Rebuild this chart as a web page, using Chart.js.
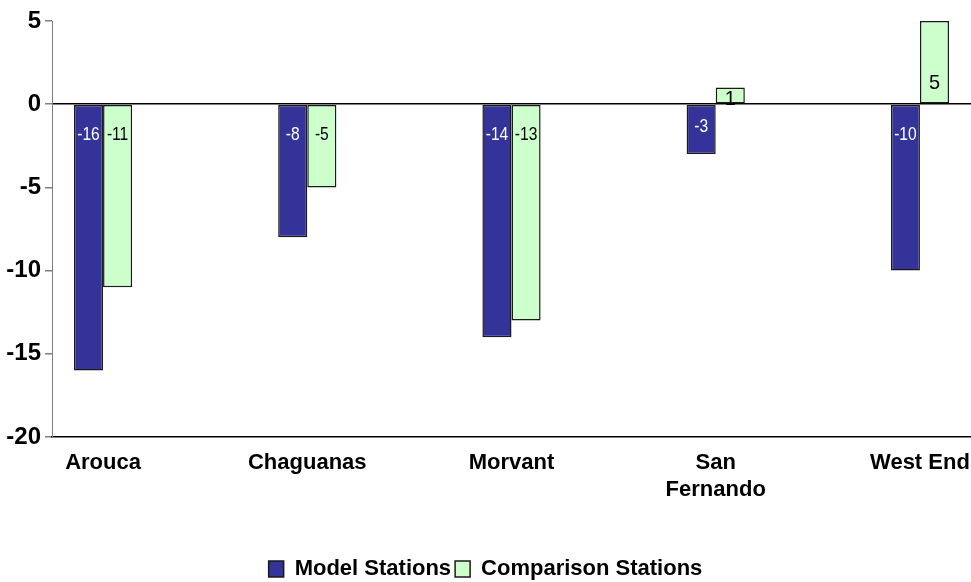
<!DOCTYPE html>
<html>
<head>
<meta charset="utf-8">
<script src="https://cdn.jsdelivr.net/npm/chart.js@4/dist/chart.umd.min.js"></script>
<style>
  html, body { margin: 0; padding: 0; background: #fff; }
  #wrap { width: 971px; height: 582px; }
</style>
</head>
<body>
<div id="wrap"><canvas id="grafico"></canvas></div>
<script>
const estacoes = ['Arouca', 'Chaguanas', 'Morvant', ['San', 'Fernando'], 'West End']
const modelo = [-16, -8, -14, -3, -10]
const comparacao = [-11, -5, -13, 1, 5]
const yTicks = [5, 0, -5, -10, -15, -20]

const grafico = document.getElementById('grafico')

// rotulos dentro das barras (fonte estreita simulada com scale)
const rotulos = {
  id: 'rotulos',
  afterDatasetsDraw(chart) {
    const ctx = chart.ctx
    chart.data.datasets.forEach((ds, i) => {
      chart.getDatasetMeta(i).data.forEach((bar, j) => {
        const v = ds.data[j].y
        const h = Math.abs(bar.base - bar.y)
        let y, sx
        ctx.save()
        if (v < 0) {
          y = bar.base + Math.min(30, h * 0.45)
          ctx.font = '19px "Liberation Sans", Arial'
          sx = 0.82
        } else {
          y = bar.y + h * 0.75
          ctx.font = '21px "Liberation Sans", Arial'
          sx = 0.95
        }
        ctx.textAlign = 'center'
        ctx.textBaseline = 'middle'
        ctx.fillStyle = i === 0 ? '#ffffff' : '#000000'
        ctx.translate(bar.x, y)
        ctx.scale(sx, 1)
        ctx.fillText(String(v), 0, 0)
        ctx.restore()
      })
    })
  }
}

new Chart(grafico, {
  type: 'bar',
  data: {
    datasets: [{
      label: 'Model Stations',
      data: modelo.map((v, i) => ({ x: i, y: v })),
      backgroundColor: '#333399',
      borderColor: '#1a1a1a',
      borderWidth: 1.5,
      borderSkipped: false,
      barPercentage: 1,
      categoryPercentage: 0.285
    },
    {
      label: 'Comparison Stations',
      data: comparacao.map((v, i) => ({ x: i, y: v })),
      backgroundColor: '#CCFFCC',
      borderColor: '#1a1a1a',
      borderWidth: 1.5,
      borderSkipped: false,
      barPercentage: 1,
      categoryPercentage: 0.285
    }]
  },
  options: {
    responsive: true,
    maintainAspectRatio: false,
    animation: false,
    layout: { padding: { top: 21, right: 0, left: 0, bottom: -8 } },
    plugins: {
      tooltip: { enabled: false },
      legend: {
        position: 'bottom',
        labels: {
          color: '#000',
          font: { family: '"Liberation Sans", Arial', size: 22, weight: 'bold' },
          boxWidth: 15,
          boxHeight: 16,
          padding: 4
        }
      }
    },
    scales: {
      x: {
        type: 'linear',
        min: -0.25,
        max: 4.25,
        offset: false,
        grid: { display: false },
        border: { display: true, color: '#000', width: 1.5 },
        afterFit: (s) => { s.height = 117; s.paddingRight = 0; s.paddingLeft = 0 },
        ticks: {
          stepSize: 1,
          includeBounds: false,
          autoSkip: false,
          maxRotation: 0,
          padding: 5,
          color: '#000',
          font: { family: '"Liberation Sans", Arial', size: 22, weight: 'bold' },
          callback: (v) => estacoes[v]
        }
      },
      y: {
        min: -20,
        max: 5,
        afterFit: (s) => { s.width = 52 },
        afterBuildTicks: (s) => { s.ticks = yTicks.map(v => ({ value: v })) },
        grid: {
          color: (c) => c.tick && c.tick.value === 0 ? '#000' : 'rgba(0,0,0,0)',
          lineWidth: 1.5,
          tickColor: '#808080',
          tickLength: 7
        },
        border: { display: true, color: '#808080', width: 1 },
        ticks: {
          padding: 4,
          color: '#000',
          font: { family: '"Liberation Sans", Arial', size: 24, weight: 'bold' }
        }
      }
    }
  },
  plugins: [rotulos]
})
</script>
</body>
</html>
